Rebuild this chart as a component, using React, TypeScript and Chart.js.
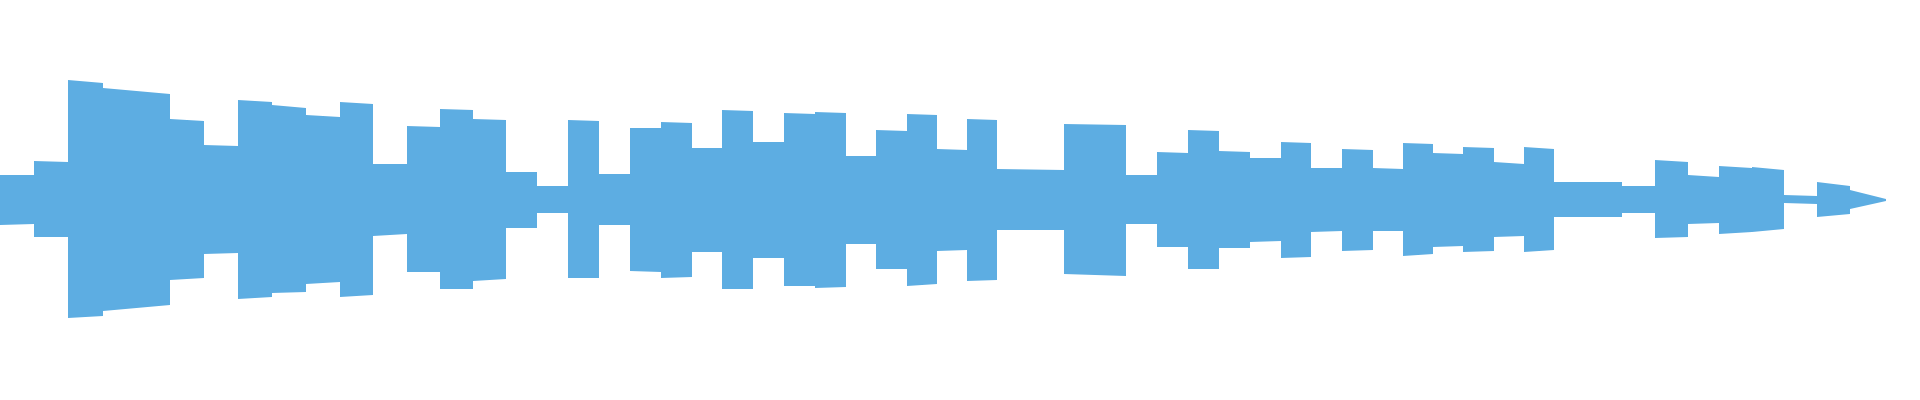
import { useEffect, useRef } from 'react'
import { Chart, registerables } from 'chart.js'

Chart.register(...registerables)

// Waveform envelope.
// Time in seconds (segment boundaries), amplitude in % of full scale.
const segmentTimes = [
  0, 0.34, 0.68, 1.03, 1.7, 2.04, 2.38, 2.72, 3.06, 3.4, 3.73, 4.07, 4.4, 4.73,
  5.06, 5.37, 5.68, 5.99, 6.3, 6.61, 6.92, 7.22, 7.53, 7.84, 8.15, 8.46, 8.76,
  9.07, 9.37, 9.67, 9.97, 10.64, 11.26, 11.57, 11.88, 12.19, 12.5, 12.81, 13.11,
  13.42, 13.73, 14.03, 14.33, 14.63, 14.94, 15.24, 15.54, 16.22, 16.55, 16.88,
  17.19, 17.52, 17.84, 18.17, 18.5, 18.86,
]

const peakStart = [
  12.5, 19.5, 60, 56, 40.5, 27.5, 50, 47.5, 42.5, 49, 18, 37, 45.5, 40.5,
  14, 7, 40, 13, 36, 39, 26, 45, 29, 43.5, 44, 22, 35,
  43, 25.5, 40.5, 15.5, 38, 12.5, 24, 35, 24.5, 21, 29, 16, 25.5, 16, 28.5, 23.5,
  26.5, 19, 26.5, 9, 7, 20, 12.5, 17, 16.5, 2.5, 9, 5,
]
const peakEnd = [
  12.5, 19, 58.5, 53, 39.5, 27, 49, 46, 41.5, 48, 18, 36.5, 45, 40,
  14, 7, 39.5, 13, 36, 38.5, 26, 44.5, 29, 43, 43.5, 22, 34.5,
  42.5, 25, 40, 15, 37.5, 12.5, 23.5, 34.5, 24, 21, 28.5, 16, 25, 15.5, 28, 23,
  26, 18, 25.5, 9, 7, 19, 11.5, 16, 15, 2, 7, 0.5,
]
const troughStart = [
  -12.5, -18.5, -59, -55.5, -40, -27, -49.5, -46.5, -42, -48.5, -18, -36, -44.5, -40.5,
  -14, -6.5, -39, -12.5, -35.5, -39, -26, -44.5, -29, -43, -44, -22, -34.5,
  -43, -25.5, -40.5, -15, -37, -12, -23.5, -34.5, -24, -21, -29, -16, -25.5, -15.5, -28, -23.5,
  -26, -18.5, -26, -8.5, -6.5, -19, -12, -17, -16, -1.5, -8.5, -4.5,
]
const troughEnd = [
  -12, -18.5, -58, -52.5, -39, -26.5, -48.5, -46, -41, -47.5, -17, -36, -44.5, -39.5,
  -14, -6.5, -39, -12.5, -36, -38.5, -26, -44.5, -29, -43, -43.5, -22, -34.5,
  -42, -25, -40, -15, -38, -12, -23.5, -34.5, -24, -20.5, -28.5, -15.5, -25, -15.5, -27, -23,
  -25.5, -18, -25, -8.5, -6.5, -18.5, -11.5, -16, -14.5, -2, -7, -0.5,
]

const WAVE_COLOR = '#5DADE2'

function envelope(starts: number[], ends: number[]) {
  const pts: { x: number; y: number }[] = []
  starts.forEach((v, i) => {
    pts.push({ x: segmentTimes[i], y: v })
    pts.push({ x: segmentTimes[i + 1], y: ends[i] })
  })
  return pts
}

export default function App() {
  const canvasRef = useRef<HTMLCanvasElement>(null)
  const chartRef = useRef<Chart | null>(null)

  useEffect(() => {
    if (!canvasRef.current) return
    const ctx = canvasRef.current.getContext('2d')
    if (!ctx) return

    chartRef.current?.destroy()

    const lineStyle = {
      type: 'line',
      borderWidth: 0,
      borderColor: 'rgba(0,0,0,0)',
      backgroundColor: WAVE_COLOR,
      pointRadius: 0,
      tension: 0,
      fill: 'origin',
    }

    chartRef.current = new Chart(ctx, {
      type: 'line',
      data: {
        datasets: [
          { ...lineStyle, label: 'peak', data: envelope(peakStart, peakEnd) } as any,
          { ...lineStyle, label: 'trough', data: envelope(troughStart, troughEnd) } as any,
        ],
      },
      options: {
        responsive: true,
        maintainAspectRatio: false,
        animation: false,
        layout: { padding: 0 },
        plugins: {
          legend: { display: false },
          tooltip: { enabled: false },
        },
        scales: {
          x: { type: 'linear', min: 0, max: 19.2, display: false },
          y: { min: -100, max: 100, display: false },
        },
      },
    } as any)

    return () => {
      chartRef.current?.destroy()
      chartRef.current = null
    }
  }, [])

  return (
    <div style={{ position: 'fixed', left: 0, top: 0, width: 1920, height: 400, background: '#fff' }}>
      <canvas ref={canvasRef} role="img" aria-label="Audio waveform" />
    </div>
  )
}
